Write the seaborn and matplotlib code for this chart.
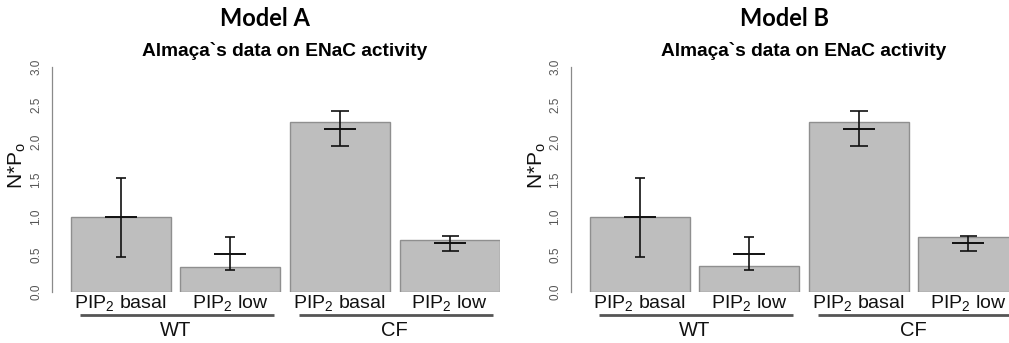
import matplotlib
matplotlib.use("Agg")
import matplotlib.pyplot as plt
import matplotlib.transforms as mtransforms
import seaborn as sns
import pandas as pd
import numpy as np

# ---------------- data ----------------
categories = ["PIP$_2$ basal", "PIP$_2$ low", "PIP$_2$ basal ", "PIP$_2$ low "]
groups = ["WT", "WT", "CF", "CF"]
group_names = ["WT", "CF"]
model_a_bars = [1.00, 0.33, 2.27, 0.70]
model_b_bars = [1.00, 0.35, 2.27, 0.73]
data_mean = [1.00, 0.51, 2.18, 0.65]
data_low = [0.47, 0.30, 1.95, 0.55]
data_high = [1.52, 0.73, 2.41, 0.75]
panel_titles = ["Model A", "Model B"]
subtitle = "Almaça`s data on ENaC activity"
ylabel = "N*P$_\\mathregular{o}$"
yticks = [0.0, 0.5, 1.0, 1.5, 2.0, 2.5, 3.0]

# ---------------- style ----------------
sns.set_style("white")
plt.rcParams["font.family"] = ["Liberation Sans", "DejaVu Sans"]
plt.rcParams["mathtext.fontset"] = "custom"
plt.rcParams["mathtext.rm"] = "Liberation Sans"
plt.rcParams["mathtext.it"] = "Liberation Sans"
plt.rcParams["mathtext.default"] = "regular"
plt.rcParams["text.color"] = "black"

BAR_COLOR = "#bebebe"
EDGE_COLOR = "#8f8f8f"
AXIS_GRAY = "#8a8a8a"
capsizes_px = [5, 5, 9, 8.5]

fig = plt.figure(figsize=(10.09, 3.43), dpi=100)
W, H = 1009, 343
ax_a = fig.add_axes([52 / W, 51 / H, 448 / W, 225 / H])
ax_b = fig.add_axes([571 / W, 51 / H, 438 / W, 225 / H])

def draw_panel(ax, bars, xmax, title, title_x, sub_x):
    df = pd.DataFrame({"cat": categories, "val": bars})
    sns.barplot(data=df, x="cat", y="val", ax=ax, color=BAR_COLOR,
                saturation=1, width=0.913, edgecolor=EDGE_COLOR, linewidth=1.0)
    x = np.arange(len(bars))
    mean = np.array(data_mean)
    lo = np.array(data_low)
    hi = np.array(data_high)
    for i in range(len(bars)):
        ax.errorbar([x[i]], [mean[i]], yerr=[[mean[i] - lo[i]], [hi[i] - mean[i]]],
                    fmt="none", ecolor="#111111", elinewidth=1.2,
                    capsize=capsizes_px[i] * 0.72, capthick=1.2, zorder=5)
    ax.scatter(x, mean, marker="_", s=23 ** 2, color="#111111", linewidths=1.4, zorder=6)

    ax.set_xlim(-0.626, xmax)
    ax.set_ylim(0, 3.0)
    ax.set_yticks(yticks)
    ax.set_yticklabels([f"{t:.1f}" for t in yticks], rotation=90, va="center",
                       fontsize=8.5, color="#555555")
    ax.tick_params(axis="y", length=4, width=0.8, color=AXIS_GRAY, pad=3)
    ax.tick_params(axis="x", length=0, pad=1, labelsize=14, labelcolor="#111111")
    ax.set_xlabel("")
    ax.set_ylabel(ylabel, fontsize=15, color="#111111")
    ax.yaxis.set_label_coords(-24 / 448, 0.56)
    for s in ["top", "right", "bottom"]:
        ax.spines[s].set_visible(False)
    ax.spines["left"].set_color(AXIS_GRAY)
    ax.spines["left"].set_linewidth(0.9)

    trans = mtransforms.blended_transform_factory(ax.transData, ax.transAxes)
    for g in group_names:
        idx = [i for i, gg in enumerate(groups) if gg == g]
        ax.plot([idx[0] - 0.37, idx[-1] + 0.40], [-0.102, -0.102], transform=trans,
                color="#555555", lw=2.0, clip_on=False, solid_capstyle="butt")
        ax.text((idx[0] + idx[-1]) / 2, -0.172, g, transform=trans,
                ha="center", va="center", fontsize=14.5, color="#111111")

    fig.text(title_x / W, 1 - 19 / H, title, ha="center", va="center",
             fontsize=17, fontweight="bold", family=["Lato", "DejaVu Sans"],
             color="black")
    fig.text(sub_x / W, 1 - 51 / H, subtitle, ha="center", va="center",
             fontsize=13.8, fontweight="bold", color="black")

draw_panel(ax_a, model_a_bars, 3.46, panel_titles[0], 265, 285)
draw_panel(ax_b, model_b_bars, 3.37, panel_titles[1], 784, 804)

fig.savefig("out.png", dpi=100)
